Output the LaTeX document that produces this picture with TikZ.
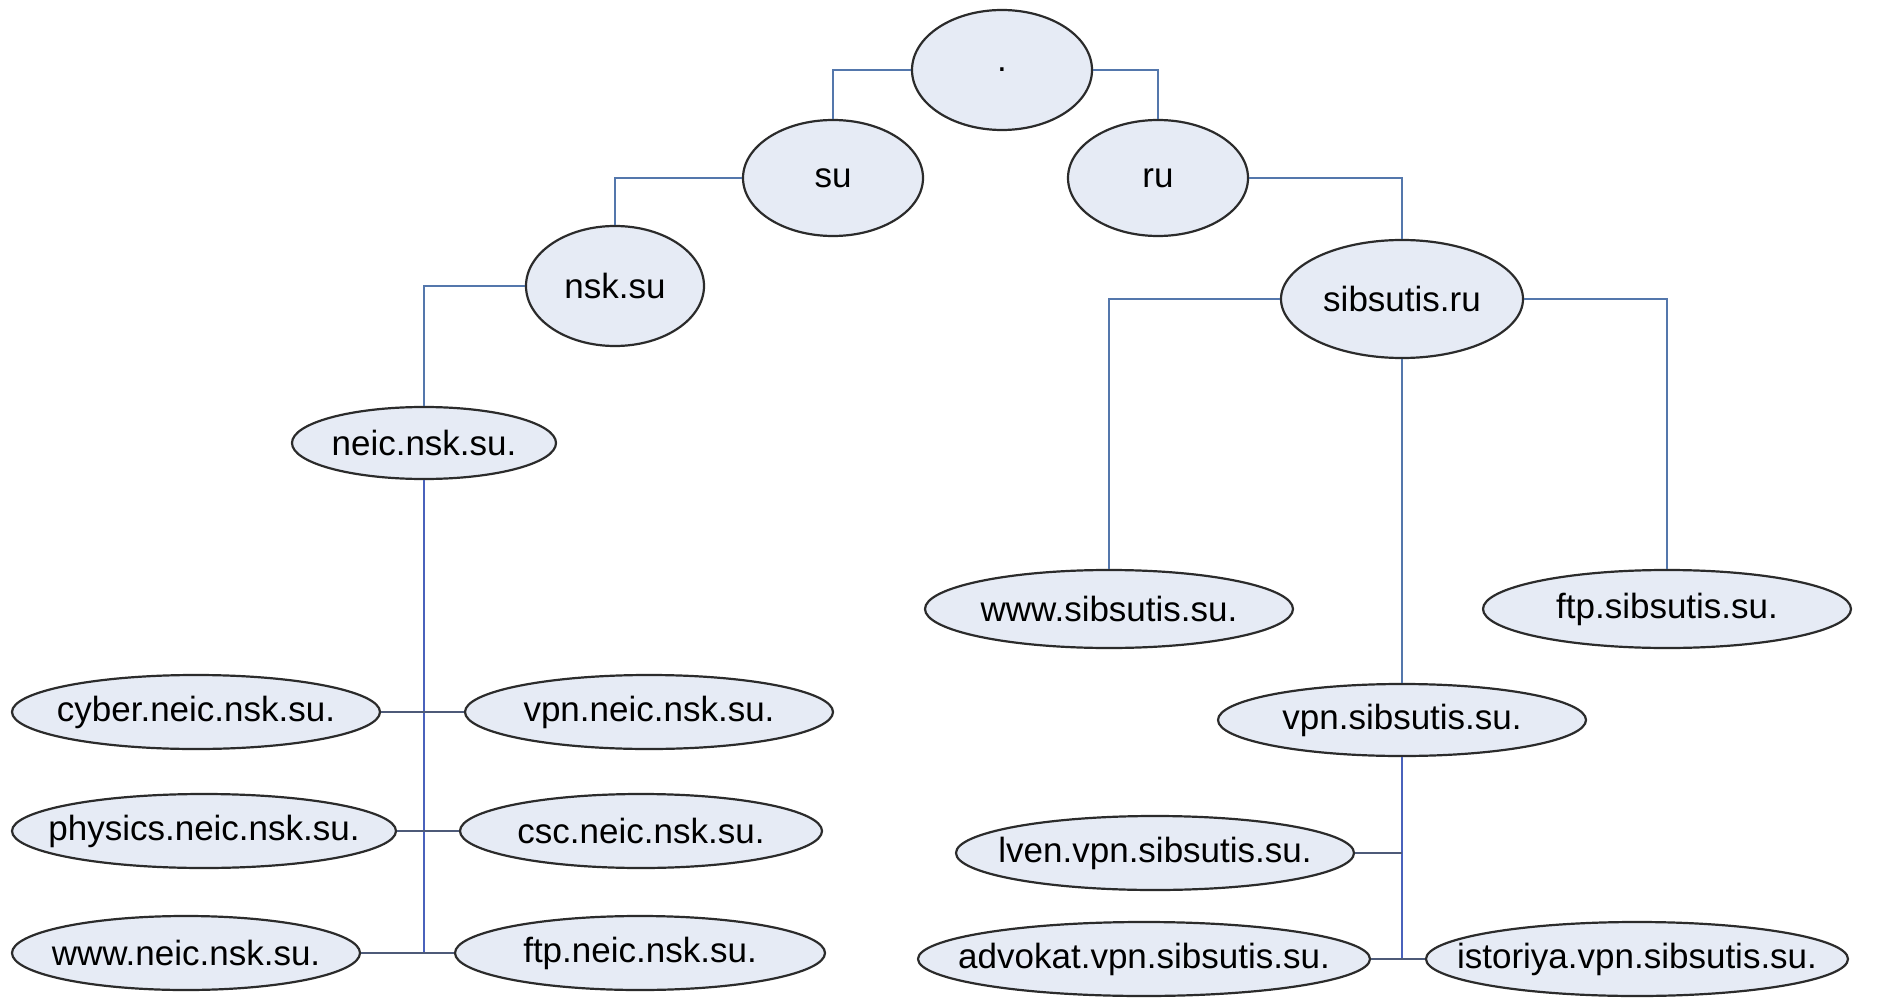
\documentclass[tikz,border=0pt]{standalone}
\usepackage{fontspec}
\setmainfont{Liberation Sans}
\usepackage{xcolor}
\usetikzlibrary{shapes.geometric}
\definecolor{dnsFill}{HTML}{E6EBF5}
\definecolor{dnsEdge}{HTML}{2B2B2B}
\definecolor{dnsLine}{HTML}{5477AC}
\definecolor{dnsBus}{HTML}{4A62BC}
\definecolor{dnsStub}{HTML}{4D5A78}
\newcommand{\dnsName}[1]{\makebox[0pt][c]{\fontsize{35}{40}\selectfont #1}}

\begin{document}
\begin{tikzpicture}[x=1pt,y=-1pt,
  dnsnode/.style={ellipse, draw=dnsEdge, fill=dnsFill, line width=2.2pt, inner sep=0pt},
  link/.style={draw=dnsLine, line width=2.2pt},
  bus/.style={draw=dnsBus, line width=2.6pt},
  stub/.style={draw=dnsStub, line width=2.4pt}]
\useasboundingbox (0,0) rectangle (1882,1000);
\node[dnsnode, minimum width=180, minimum height=120] (root) at (1002,70) {\dnsName{.}};
\node[dnsnode, minimum width=180, minimum height=116] (su) at (833,178) {\dnsName{su}};
\node[dnsnode, minimum width=180, minimum height=116] (ru) at (1158,178) {\dnsName{ru}};
\node[dnsnode, minimum width=178, minimum height=120] (nsksu) at (615,286) {\dnsName{nsk.su}};
\node[dnsnode, minimum width=242, minimum height=118] (sibsutis) at (1402,299) {\dnsName{sibsutis.ru}};
\node[dnsnode, minimum width=264, minimum height=72] (neic) at (424,443) {\dnsName{neic.nsk.su.}};
\node[dnsnode, minimum width=368, minimum height=78] (wwwsib) at (1109,609) {\dnsName{www.sibsutis.su.}};
\node[dnsnode, minimum width=368, minimum height=78] (ftpsib) at (1667,609) {\dnsName{ftp.sibsutis.su.}};
\node[dnsnode, minimum width=368, minimum height=72] (vpnsib) at (1402,720) {\dnsName{vpn.sibsutis.su.}};
\node[dnsnode, minimum width=398, minimum height=74] (lven) at (1155,853) {\dnsName{lven.vpn.sibsutis.su.}};
\node[dnsnode, minimum width=452, minimum height=74] (advokat) at (1144,959) {\dnsName{advokat.vpn.sibsutis.su.}};
\node[dnsnode, minimum width=422, minimum height=74] (istoriya) at (1637,959) {\dnsName{istoriya.vpn.sibsutis.su.}};
\node[dnsnode, minimum width=368, minimum height=74] (cyber) at (196,712) {\dnsName{cyber.neic.nsk.su.}};
\node[dnsnode, minimum width=368, minimum height=74] (vpnneic) at (649,712) {\dnsName{vpn.neic.nsk.su.}};
\node[dnsnode, minimum width=384, minimum height=74] (physics) at (204,831) {\dnsName{physics.neic.nsk.su.}};
\node[dnsnode, minimum width=362, minimum height=74] (csc) at (641,831) {\dnsName{csc.neic.nsk.su.}};
\node[dnsnode, minimum width=348, minimum height=74] (wwwneic) at (186,953) {\dnsName{www.neic.nsk.su.}};
\node[dnsnode, minimum width=370, minimum height=74] (ftpneic) at (640,953) {\dnsName{ftp.neic.nsk.su.}};
\coordinate (neicbus) at (424,953);
\coordinate (vpnbus) at (1402,959);
\draw[link] (root.west) -| (su.north);
\draw[link] (root.east) -| (ru.north);
\draw[link] (su.west) -| (nsksu.north);
\draw[link] (ru.east) -| (sibsutis.north);
\draw[link] (nsksu.west) -| (neic.north);
\draw[link] (sibsutis.west) -| (wwwsib.north);
\draw[link] (sibsutis.east) -| (ftpsib.north);
\draw[link] (sibsutis.south) -- (vpnsib.north);
\draw[bus] (vpnsib.south) -- (vpnbus);
\draw[stub] (lven.east) -- (lven.east -| vpnbus);
\draw[stub] (advokat.east) -- (istoriya.west);
\draw[bus] (neic.south) -- (neicbus);
\draw[stub] (cyber.east) -- (vpnneic.west);
\draw[stub] (physics.east) -- (csc.west);
\draw[stub] (wwwneic.east) -- (ftpneic.west);
\end{tikzpicture}
\end{document}
